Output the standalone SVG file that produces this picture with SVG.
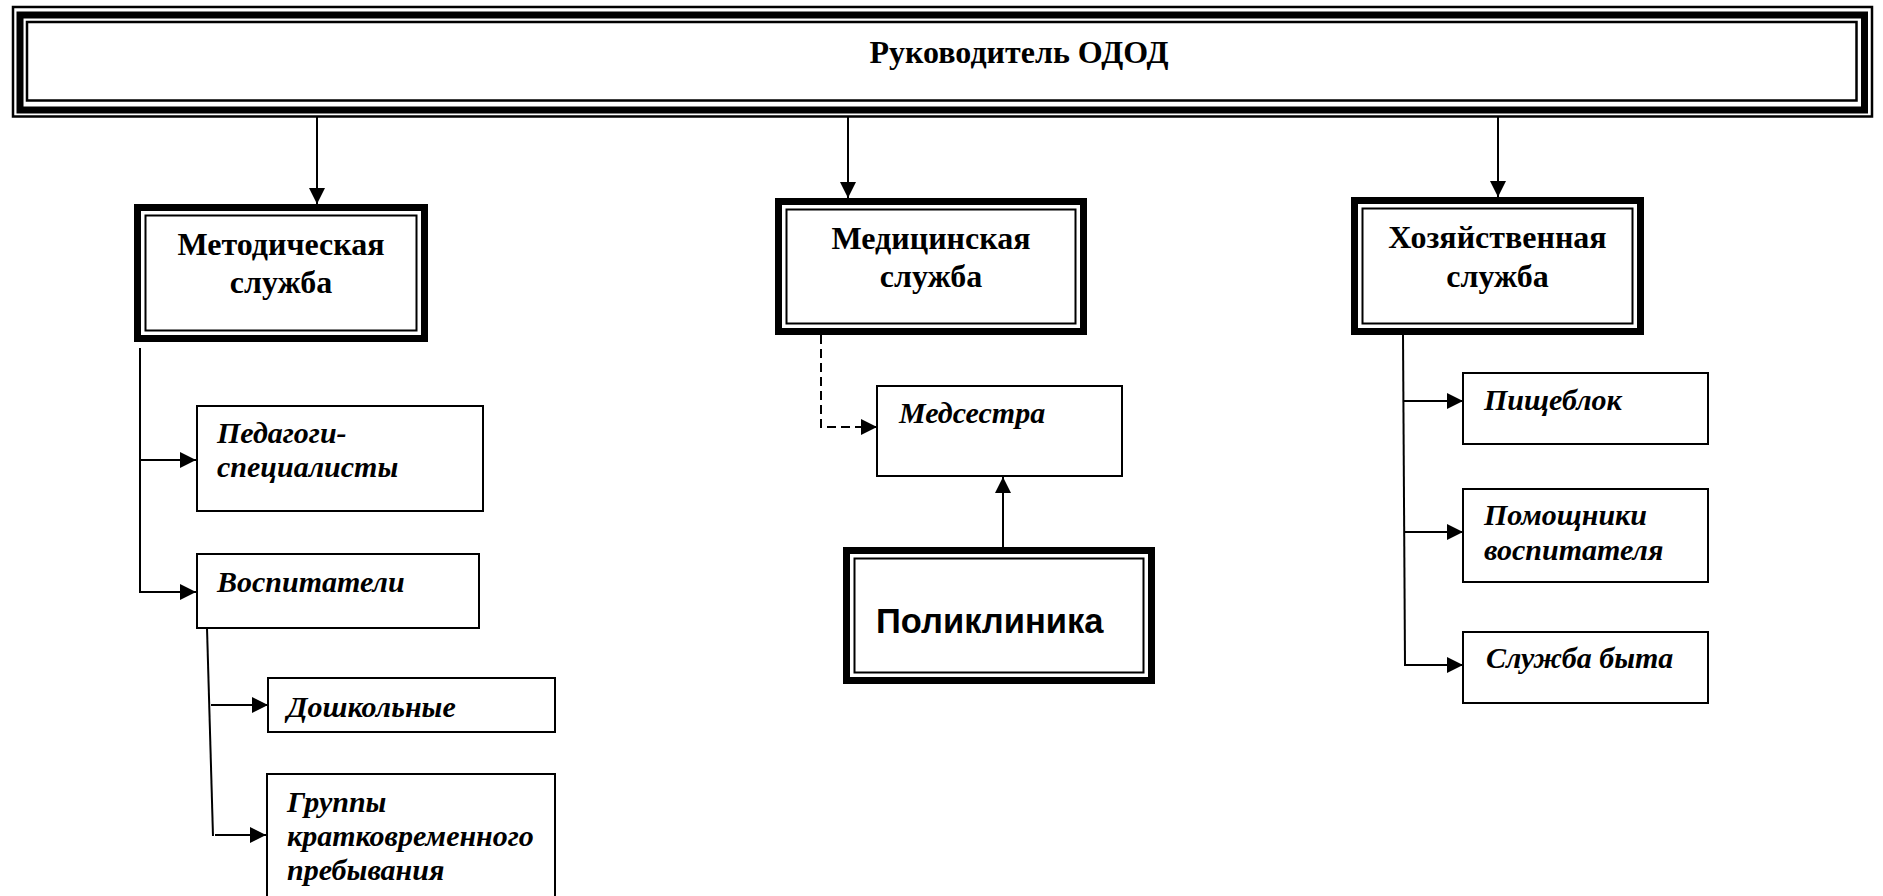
<svg xmlns="http://www.w3.org/2000/svg" width="1883" height="896" viewBox="0 0 1883 896">
<style>
.thin{fill:none;stroke:#000;stroke-width:2}
.mid{fill:none;stroke:#000;stroke-width:2.5}
.thick{fill:none;stroke:#000;stroke-width:7}
.line{fill:none;stroke:#000;stroke-width:2}
.dash{fill:none;stroke:#000;stroke-width:2;stroke-dasharray:9 5}
.b{font-family:"Liberation Serif","Times New Roman",serif;font-weight:bold;font-size:32px;fill:#000}
.bi{font-family:"Liberation Serif","Times New Roman",serif;font-weight:bold;font-style:italic;font-size:30px;fill:#000}
.sans{font-family:"Liberation Sans",Arial,sans-serif;font-weight:bold;font-size:34.5px;fill:#000}
</style>
<defs>
<marker id="arr" viewBox="0 0 16 16" refX="16" refY="8" markerWidth="16" markerHeight="16" markerUnits="userSpaceOnUse" orient="auto">
<path d="M0,0 L16,8 L0,16 z" fill="#000"/>
</marker>
</defs>
<rect width="1883" height="896" fill="#fff"/>

<g id="head">
<rect class="mid" x="13" y="7" width="1859" height="109.5"/>
<rect class="thick" x="20" y="15" width="1844.5" height="95"/>
<rect class="mid" x="27" y="22" width="1829.5" height="78.5"/>
<text class="b" x="1019" y="63" text-anchor="middle">Руководитель ОДОД</text>
</g>

<g id="metod">
<rect class="thick" x="137.5" y="207.5" width="287" height="131"/>
<rect class="thin" x="145.5" y="215.5" width="271" height="115"/>
<text class="b" x="281" y="255" text-anchor="middle">Методическая</text>
<text class="b" x="281" y="293" text-anchor="middle">служба</text>
</g>

<g id="med">
<rect class="thick" x="778.5" y="201.5" width="305" height="130"/>
<rect class="thin" x="786.5" y="209.5" width="289" height="114"/>
<text class="b" x="931" y="249" text-anchor="middle">Медицинская</text>
<text class="b" x="931" y="287" text-anchor="middle">служба</text>
</g>

<g id="hoz">
<rect class="thick" x="1354.5" y="200.5" width="286" height="131"/>
<rect class="thin" x="1362.5" y="208.5" width="270" height="115"/>
<text class="b" x="1497.5" y="248" text-anchor="middle">Хозяйственная</text>
<text class="b" x="1497.5" y="287" text-anchor="middle">служба</text>
</g>

<g id="poli">
<rect class="thick" x="846.5" y="550.5" width="305" height="130"/>
<rect class="thin" x="854.5" y="558.5" width="289" height="114"/>
<text class="sans" x="876" y="633">Поликлиника</text>
</g>

<g id="ped">
<rect class="thin" x="197" y="406" width="286" height="105"/>
<text class="bi" x="217" y="443">Педагоги-</text>
<text class="bi" x="217" y="477">специалисты</text>
</g>

<g id="vosp">
<rect class="thin" x="197" y="554" width="282" height="74"/>
<text class="bi" x="217" y="592">Воспитатели</text>
</g>

<g id="dosh">
<rect class="thin" x="268" y="678" width="287" height="54"/>
<text class="bi" x="287" y="717">Дошкольные</text>
</g>

<g id="grup">
<rect class="thin" x="267" y="774" width="288" height="130"/>
<text class="bi" x="287" y="812">Группы</text>
<text class="bi" x="287" y="846">кратковременного</text>
<text class="bi" x="287" y="880">пребывания</text>
</g>

<g id="medsestra">
<rect class="thin" x="877" y="386" width="245" height="90"/>
<text class="bi" x="899" y="423">Медсестра</text>
</g>

<g id="pishch">
<rect class="thin" x="1463" y="373" width="245" height="71"/>
<text class="bi" x="1484" y="410">Пищеблок</text>
</g>

<g id="pomosh">
<rect class="thin" x="1463" y="489" width="245" height="93"/>
<text class="bi" x="1484" y="525">Помощники</text>
<text class="bi" x="1484" y="560">воспитателя</text>
</g>

<g id="byt">
<rect class="thin" x="1463" y="632" width="245" height="71"/>
<text class="bi" x="1486" y="668">Служба быта</text>
</g>

<g id="connectors">
<line class="line" x1="317" y1="117" x2="317" y2="204" marker-end="url(#arr)"/>
<line class="line" x1="848" y1="117" x2="848" y2="198" marker-end="url(#arr)"/>
<line class="line" x1="1498" y1="117" x2="1498" y2="197" marker-end="url(#arr)"/>

<line class="line" x1="140" y1="348" x2="140" y2="593"/>
<line class="line" x1="140" y1="460" x2="196" y2="460" marker-end="url(#arr)"/>
<line class="line" x1="140" y1="592" x2="196" y2="592" marker-end="url(#arr)"/>

<line class="line" x1="207" y1="628" x2="213" y2="836"/>
<line class="line" x1="211" y1="705" x2="268" y2="705" marker-end="url(#arr)"/>
<line class="line" x1="215" y1="835" x2="266" y2="835" marker-end="url(#arr)"/>

<polyline class="dash" points="821,335 821,427 877,427" marker-end="url(#arr)"/>
<line class="line" x1="1003" y1="547" x2="1003" y2="477" marker-end="url(#arr)"/>

<line class="line" x1="1403" y1="334" x2="1405" y2="666"/>
<line class="line" x1="1404" y1="401" x2="1463" y2="401" marker-end="url(#arr)"/>
<line class="line" x1="1404" y1="532" x2="1463" y2="532" marker-end="url(#arr)"/>
<line class="line" x1="1405" y1="665" x2="1463" y2="665" marker-end="url(#arr)"/>
</g>
</svg>
